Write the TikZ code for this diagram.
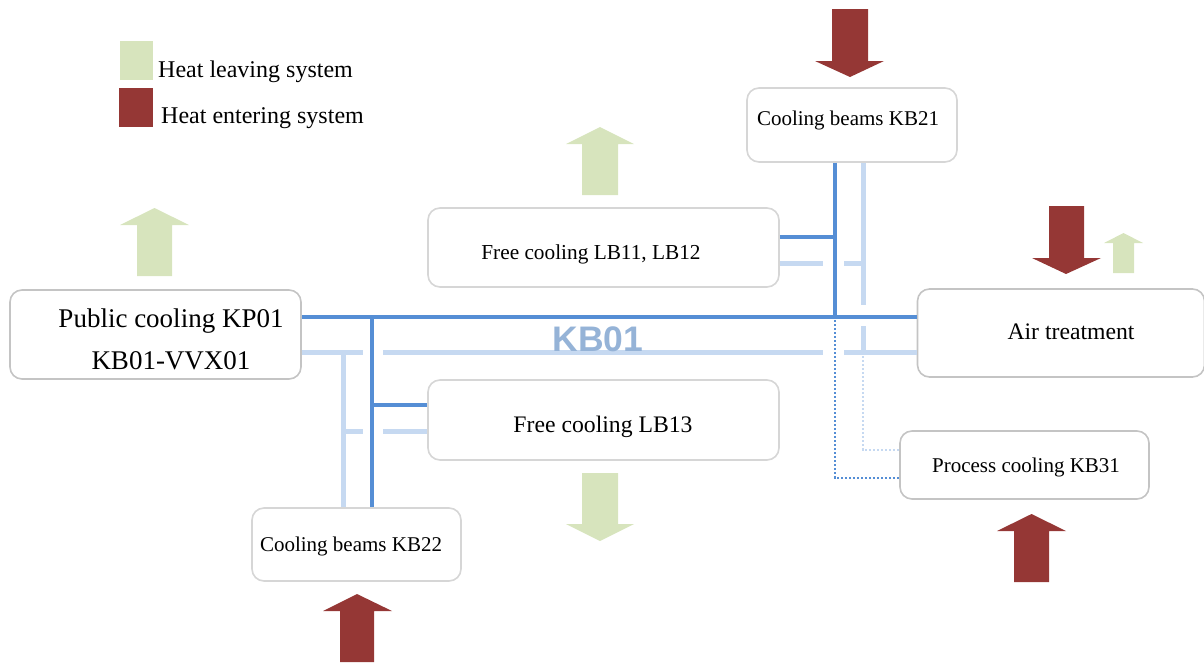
\documentclass[tikz,border=0pt]{standalone}
\usepackage{fontspec}
\setmainfont{Liberation Serif}
\newfontfamily\kbfont{Liberation Sans}
\definecolor{darkblue}{HTML}{558ED5}
\definecolor{lightblue}{HTML}{C6D9F1}
\definecolor{kbcol}{HTML}{95B3D7}
\definecolor{heatout}{HTML}{D7E4BD}
\definecolor{heatin}{HTML}{953735}
\definecolor{boxgrayA}{HTML}{C4C4C4}
\definecolor{boxgrayB}{HTML}{D6D6D6}
\begin{document}
\begin{tikzpicture}[x=1pt,y=-1pt,
  boxA/.style={draw=boxgrayA, line width=1.6pt, rounded corners=12pt, fill=white, inner sep=0pt},
  boxB/.style={draw=boxgrayB, line width=1.6pt, rounded corners=12pt, fill=white, inner sep=0pt},
  lbl/.style={anchor=base, inner sep=0pt},
  dpipe/.style={draw=darkblue, line width=4pt},
  lpipe/.style={draw=lightblue, line width=5pt},
  ddot/.style={draw=darkblue, line width=2.6pt, dash pattern=on 2.2pt off 1.8pt},
  ldot/.style={draw=lightblue, line width=2.8pt, dash pattern=on 2.2pt off 1.8pt},
  hout/.style={fill=heatout},
  hin/.style={fill=heatin}]
\useasboundingbox (0,0) rectangle (1204,662);

% boxes
\node[boxA, minimum width=291pt, minimum height=89pt] (pc) at (155.5,334.5) {};
\node[boxB, minimum width=210pt, minimum height=74pt] (kb21) at (852,125) {};
\node[boxB, minimum width=351pt, minimum height=79pt] (lb11) at (603.5,247.5) {};
\node[boxA, minimum width=287pt, minimum height=88pt] (air) at (1061,333) {};
\node[boxB, minimum width=351pt, minimum height=80pt] (lb13) at (603.5,420) {};
\node[boxA, minimum width=249pt, minimum height=68pt] (kb31) at (1024.5,465) {};
\node[boxB, minimum width=209pt, minimum height=73pt] (kb22) at (356.5,544.5) {};

% junction coordinates
\coordinate (JA) at (372,317);
\coordinate (JB) at (835,317);
\coordinate (JC) at (372,405);
\coordinate (JD) at (835,237);
\coordinate (JE) at (835,478);
\coordinate (LA) at (343,352);
\coordinate (LB) at (863,352);
\coordinate (LC) at (343,431);
\coordinate (LD) at (863,263);
\coordinate (LE) at (863,450);

% light pipes (return)
\draw[lpipe] (pc.east |- LA) -- (363,352);
\draw[lpipe] (383,352) -- (823,352);
\draw[lpipe] (844,352) -- (air.west |- LA);
\draw[lpipe] (LA) -- (LA |- kb22.north);
\draw[lpipe] (LC) -- (363,431);
\draw[lpipe] (383,431) -- (lb13.west |- LC);
\draw[lpipe] (kb21.south -| LD) -- (863,305);
\draw[lpipe] (863,326) -- (LB);
\draw[lpipe] (lb11.east |- LD) -- (823,263);
\draw[lpipe] (844,263) -- (LD);
\draw[ldot] (LB) -- (LE) -- (kb31.west |- LE);

% dark pipes (supply)
\draw[dpipe] (pc.east |- JA) -- (air.west |- JA);
\draw[dpipe] (JA) -- (JA |- kb22.north);
\draw[dpipe] (JC) -- (lb13.west |- JC);
\draw[dpipe] (kb21.south -| JB) -- (JB);
\draw[dpipe] (lb11.east |- JD) -- (JD);
\draw[ddot] (835,320) -- (JE) -- (kb31.west |- JE);

% labels
\node[lbl, font=\fontsize{27}{30}\selectfont] (t1) at (171,327) {Public cooling KP01};
\node[lbl, font=\fontsize{27}{30}\selectfont] (t2) at (171,369) {KB01-VVX01};
\node[lbl, font=\fontsize{21}{25}\selectfont] (t3) at (848,125) {Cooling beams KB21};
\node[lbl, font=\fontsize{21.3}{25}\selectfont] (t4) at (591,259) {Free cooling LB11, LB12};
\node[lbl, font=\fontsize{23.7}{28}\selectfont] (t5) at (1071,339) {Air treatment};
\node[lbl, font=\fontsize{23.7}{28}\selectfont] (t6) at (603,432) {Free cooling LB13};
\node[lbl, font=\fontsize{21}{25}\selectfont] (t7) at (1026,472) {Process cooling KB31};
\node[lbl, font=\fontsize{21}{25}\selectfont] (t8) at (351,551) {Cooling beams KB22};
\node[lbl, font=\kbfont\bfseries\fontsize{35.5}{40}\selectfont, text=kbcol] (kb) at (598,351) {KB01};

% legend
\fill[hout] (120,41) rectangle (153,80);
\fill[hin] (119,88) rectangle (153,127);
\node[lbl, anchor=base west, font=\fontsize{24}{28}\selectfont] (lg1) at (158,77) {Heat leaving system};
\node[lbl, anchor=base west, font=\fontsize{24}{28}\selectfont] (lg2) at (161,123) {Heat entering system};

% heat arrows
\fill[hout] (120,225) -- (154.5,208) -- (189,225) -- (172,225) -- (172,276) -- (137,276) -- (137,225) -- cycle;
\fill[hout] (566,144) -- (600,127) -- (634,144) -- (618,144) -- (618,195) -- (582,195) -- (582,144) -- cycle;
\fill[hin] (832,9) -- (868,9) -- (868,61) -- (884,61) -- (850,77) -- (815,61) -- (832,61) -- cycle;
\fill[hin] (1049,206) -- (1084,206) -- (1084,258) -- (1101,258) -- (1066,274) -- (1032,258) -- (1049,258) -- cycle;
\fill[hout] (1104,243) -- (1123.5,233) -- (1143,243) -- (1134,243) -- (1134,273) -- (1113,273) -- (1113,243) -- cycle;
\fill[hout] (582,473) -- (618,473) -- (618,524) -- (634,524) -- (600,541) -- (566,524) -- (582,524) -- cycle;
\fill[hin] (997,531) -- (1031.5,514) -- (1066,531) -- (1049,531) -- (1049,582) -- (1014,582) -- (1014,531) -- cycle;
\fill[hin] (323,611) -- (357,594) -- (392,611) -- (374,611) -- (374,662) -- (340,662) -- (340,611) -- cycle;
\end{tikzpicture}
\end{document}
